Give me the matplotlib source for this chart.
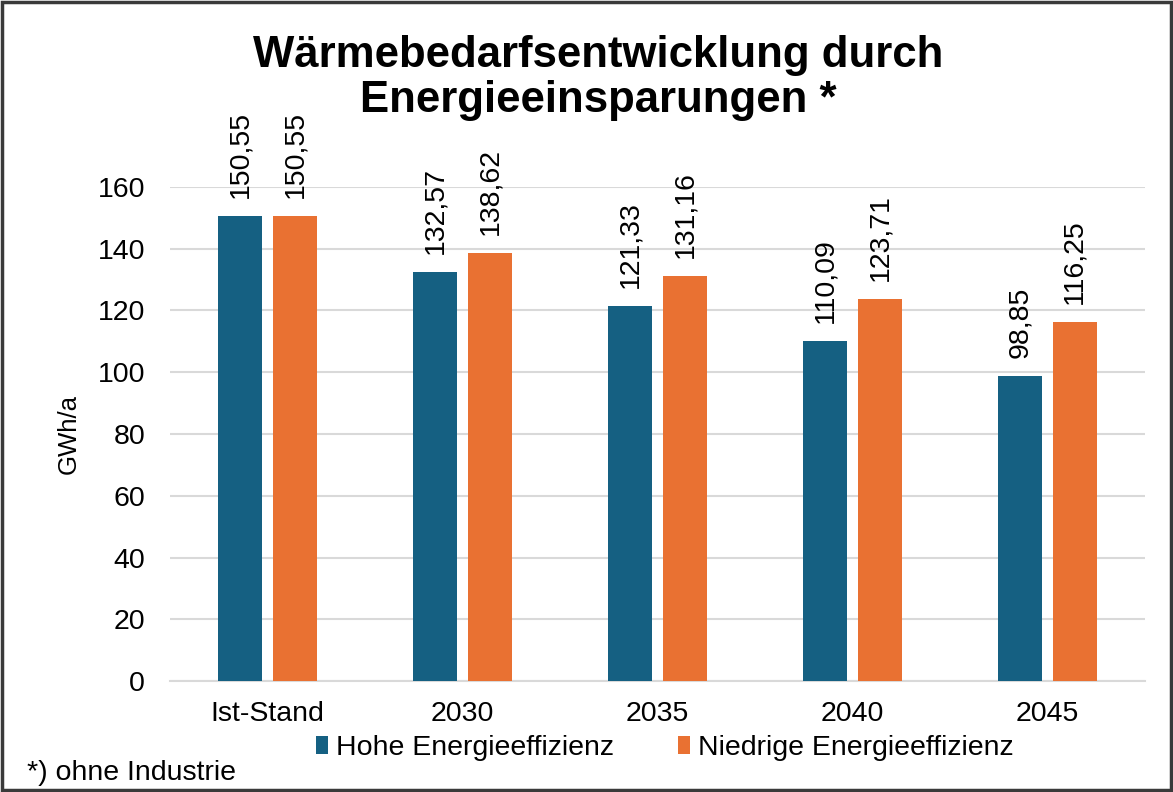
import matplotlib.pyplot as plt
import numpy as np
from matplotlib.patches import Rectangle

categories = ["Ist-Stand", "2030", "2035", "2040", "2045"]
hohe = [150.55, 132.57, 121.33, 110.09, 98.85]
niedrige = [150.55, 138.62, 131.16, 123.71, 116.25]
series_names = ["Hohe Energieeffizienz", "Niedrige Energieeffizienz"]
colors = ["#156082", "#E97132"]
title_lines = ["Wärmebedarfsentwicklung durch", "Energieeinsparungen *"]

plt.rcParams['font.family'] = ['Liberation Sans', 'DejaVu Sans']

fig = plt.figure(figsize=(11.73, 7.92), dpi=100)
ax = fig.add_axes([0.145, 0.140, 0.831, 0.624])

x = np.arange(len(categories))
width = 0.226
offset = 0.141
fs = 20.5

# bars + rotated value labels
for vals, off, col, name in zip([hohe, niedrige], [-offset, offset], colors, series_names):
    bars = ax.bar(x + off, vals, width, color=col, label=name, zorder=3)
    for b, v in zip(bars, vals):
        ax.annotate(("%.2f" % v).replace(".", ","),
                    (b.get_x() + b.get_width() / 2, v),
                    xytext=(0, 13), textcoords="offset points",
                    rotation=90, ha="center", va="bottom", fontsize=fs)

ax.set_xlim(-0.5, len(categories) - 0.5)
ax.set_ylim(0, 160)
ax.set_yticks(range(0, 161, 20))
ax.set_xticks(x)
ax.set_xticklabels(categories)
ax.tick_params(axis="both", length=0, labelsize=fs)
ax.tick_params(axis="y", pad=18)
ax.tick_params(axis="x", pad=14)
ax.grid(axis="y", color="#d9d9d9", linewidth=1.5, zorder=0)
for s in ["top", "right", "left"]:
    ax.spines[s].set_visible(False)
ax.spines["bottom"].set_color("#d9d9d9")
ax.spines["bottom"].set_linewidth(1.5)
ax.set_ylabel("GWh/a", fontsize=18.5, labelpad=12)

# title as two separate lines
fig.text(0.51, 0.930, title_lines[0], ha="center", va="center",
         fontsize=31.5, fontweight="bold")
fig.text(0.51, 0.873, title_lines[1], ha="center", va="center",
         fontsize=31.5, fontweight="bold")

fig.legend(loc="center", bbox_to_anchor=(0.567, 0.055), ncol=2, frameon=False,
           fontsize=fs, handlelength=0.4, handleheight=0.6, handletextpad=0.3,
           columnspacing=2.25)

fig.text(0.023, 0.024, "*) ohne Industrie", ha="left", va="center", fontsize=fs)

# chart border
fig.patches.append(Rectangle((0.002, 0.003), 0.996, 0.994, transform=fig.transFigure,
                             fill=False, edgecolor="#3a3a3a", linewidth=2.5))

fig.savefig("out.png", dpi=100)
